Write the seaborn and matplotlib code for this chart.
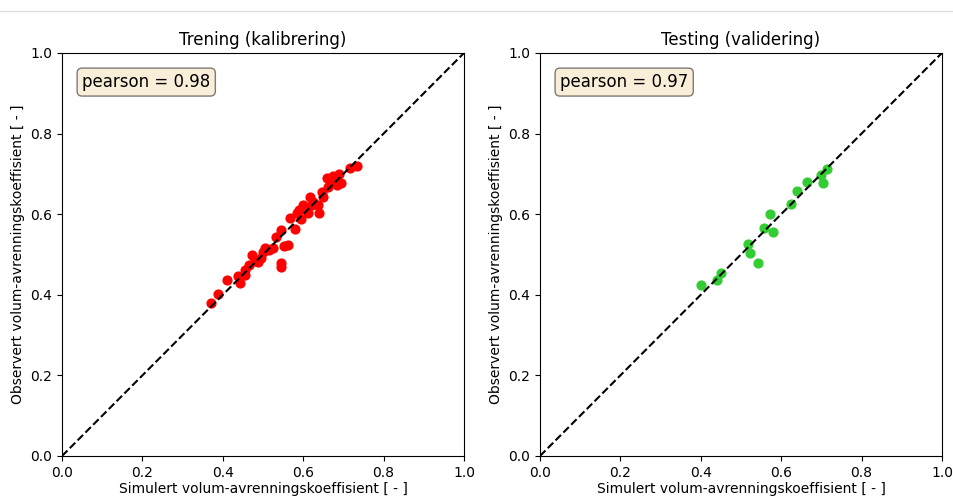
import numpy as np
import pandas as pd
import matplotlib
matplotlib.use("Agg")
import matplotlib.pyplot as plt
from matplotlib.lines import Line2D
import seaborn as sns

sim_train = [0.370, 0.387, 0.411, 0.437, 0.443, 0.455, 0.464, 0.473, 0.480, 0.487,
             0.494, 0.505, 0.515, 0.526, 0.532, 0.545, 0.553, 0.561, 0.545, 0.545,
             0.567, 0.584, 0.580, 0.595, 0.600, 0.611, 0.617, 0.621, 0.638, 0.639,
             0.646, 0.650, 0.662, 0.669, 0.658, 0.679, 0.689, 0.694, 0.716, 0.735,
             0.455, 0.500, 0.590, 0.625, 0.675, 0.683]
obs_train = [0.379, 0.402, 0.437, 0.447, 0.428, 0.462, 0.474, 0.499, 0.485, 0.482,
             0.490, 0.515, 0.512, 0.515, 0.543, 0.561, 0.521, 0.524, 0.478, 0.470,
             0.590, 0.602, 0.563, 0.587, 0.623, 0.602, 0.642, 0.623, 0.623, 0.602,
             0.656, 0.643, 0.668, 0.681, 0.689, 0.689, 0.700, 0.677, 0.714, 0.720,
             0.450, 0.505, 0.610, 0.630, 0.695, 0.672]

sim_test = [0.400, 0.440, 0.450, 0.518, 0.522, 0.543, 0.558, 0.571, 0.579,
            0.624, 0.640, 0.663, 0.700, 0.703, 0.715]
obs_test = [0.424, 0.437, 0.453, 0.525, 0.503, 0.480, 0.565, 0.600, 0.555,
            0.625, 0.658, 0.679, 0.697, 0.677, 0.712]

titles = ["Trening (kalibrering)", "Testing (validering)"]
pearson_labels = ["pearson = 0.98", "pearson = 0.97"]
colors = ["red", "limegreen"]

df_train = pd.DataFrame({"sim": sim_train, "obs": obs_train})
df_test = pd.DataFrame({"sim": sim_test, "obs": obs_test})

fig = plt.figure(figsize=(9.54, 4.97), dpi=100)
ax1 = fig.add_axes([0.065, 0.0825, 0.4214, 0.811])
ax2 = fig.add_axes([0.566, 0.0825, 0.4214, 0.811])

# faint separator line at the top (notebook cell edge)
fig.add_artist(Line2D([0, 1], [0.978, 0.978], transform=fig.transFigure,
                      color="#dddddd", linewidth=1))

for ax, df, title, label, color in zip([ax1, ax2], [df_train, df_test], titles,
                                       pearson_labels, colors):
    sns.scatterplot(ax=ax, data=df, x="sim", y="obs", color=color,
                    edgecolor=color, linewidth=1, s=40, zorder=2)
    ax.plot([0, 1], [0, 1], "k--", linewidth=1.5, zorder=3)
    ax.set_xlim(0, 1)
    ax.set_ylim(0, 1)
    ax.set_title(title)
    ax.set_xlabel("Simulert volum-avrenningskoeffisient [ - ]", labelpad=2)
    ax.set_ylabel("Observert volum-avrenningskoeffisient [ - ]")
    ax.text(0.05, 0.95, label, transform=ax.transAxes, fontsize=12,
            verticalalignment="top",
            bbox=dict(boxstyle="round", facecolor="wheat", alpha=0.5))

plt.savefig("out.png", dpi=100)
